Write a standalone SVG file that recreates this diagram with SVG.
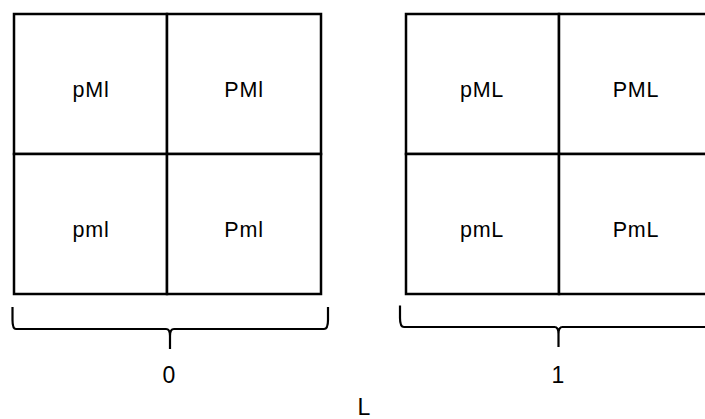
<svg xmlns="http://www.w3.org/2000/svg" width="705" height="419" viewBox="0 0 705 419">
  <style>
    .cell { fill: #ffffff; stroke: #000000; stroke-width: 2.5; }
    .brace { fill: none; stroke: #000000; stroke-width: 2.2; stroke-linejoin: round; }
    .lbl { font-family: "Liberation Sans", Arial, sans-serif; font-size: 21.5px; fill: #000000; text-anchor: middle; letter-spacing: 0.8px; }
    .axis { font-family: "Liberation Sans", Arial, sans-serif; font-size: 23px; fill: #000000; text-anchor: middle; }
  </style>
  <rect width="705" height="419" fill="#ffffff"/>

  <!-- l = 0 square -->
  <g id="cell-pMl"><rect class="cell" x="14" y="14" width="153" height="140"/><text class="lbl" x="91" y="97">pMl</text></g>
  <g id="cell-PMl"><rect class="cell" x="167" y="14" width="154" height="140"/><text class="lbl" x="244" y="97">PMl</text></g>
  <g id="cell-pml"><rect class="cell" x="14" y="154" width="153" height="140"/><text class="lbl" x="91" y="237">pml</text></g>
  <g id="cell-Pml"><rect class="cell" x="167" y="154" width="154" height="140"/><text class="lbl" x="244" y="237">Pml</text></g>

  <!-- L = 1 square -->
  <g id="cell-pML"><rect class="cell" x="406" y="14" width="153" height="140"/><text class="lbl" x="482" y="97">pML</text></g>
  <g id="cell-PML"><rect class="cell" x="559" y="14" width="154" height="140"/><text class="lbl" x="636" y="97">PML</text></g>
  <g id="cell-pmL"><rect class="cell" x="406" y="154" width="153" height="140"/><text class="lbl" x="482" y="237">pmL</text></g>
  <g id="cell-PmL"><rect class="cell" x="559" y="154" width="154" height="140"/><text class="lbl" x="636" y="237">PmL</text></g>

  <!-- braces under each square -->
  <g id="connectors">
    <path class="brace" d="M12.5,307 L12.5,320 Q12.5,329 16,329 L166,329 Q170,329 170,336 L170,349 M170,336 Q170,329 174,329 L324,329 Q328,329 328,320 L328,307"/>
    <path class="brace" d="M400,305.5 L400,318 Q400,327 404,327 L554.5,327 Q558.5,327 558.5,334 L558.5,347 M558.5,334 Q558.5,327 562.5,327 L712,327 Q716,327 716,318 L716,305.5"/>
  </g>

  <g id="labels">
    <text class="axis" x="169" y="383">0</text>
    <text class="axis" x="558" y="383">1</text>
    <text class="axis" x="364" y="415">L</text>
  </g>
</svg>
